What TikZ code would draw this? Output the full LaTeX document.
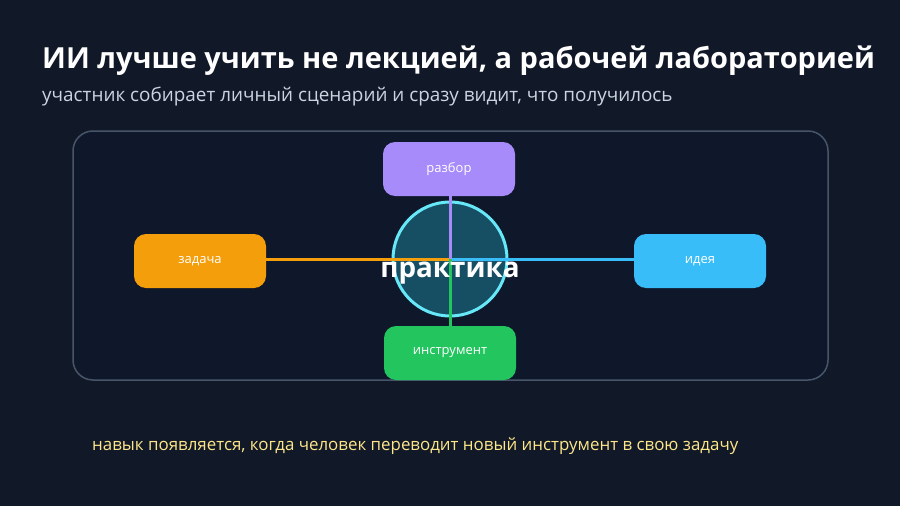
\documentclass[tikz,border=0pt]{standalone}
\usepackage{fontspec}
\setmainfont{Open Sans}
\usetikzlibrary{positioning}
\definecolor{bg}{HTML}{111827}
\definecolor{panelfill}{HTML}{0F172A}
\definecolor{panelline}{HTML}{475569}
\definecolor{subt}{HTML}{CBD5E1}
\definecolor{cpurple}{HTML}{A78BFA}
\definecolor{corange}{HTML}{F59E0B}
\definecolor{cblue}{HTML}{38BDF8}
\definecolor{cgreen}{HTML}{22C55E}
\definecolor{circfill}{HTML}{164E63}
\definecolor{circline}{HTML}{67E8F9}
\definecolor{foot}{HTML}{FDE68A}
\tikzset{
  box/.style={rounded corners=12pt, minimum width=132pt, minimum height=54pt, inner sep=0pt, text=white, font=\fontsize{13}{15}\selectfont},
  link/.style={line width=3pt},
}
\begin{document}
\begin{tikzpicture}[x=1pt,y=-1pt]
\fill[bg] (0,0) rectangle (900,506);
\useasboundingbox (0,0) rectangle (900,506);
\node[anchor=base west, text=white, font=\fontsize{29}{33}\selectfont\bfseries, inner sep=0pt] (title) at (42,68) {ИИ лучше учить не лекцией, а рабочей лабораторией};
\node[anchor=base west, text=subt, font=\fontsize{18.9}{22}\selectfont, inner sep=0pt] (sub) at (42,101) {участник собирает личный сценарий и сразу видит, что получилось};
\draw[panelline, fill=panelfill, line width=1.5pt, rounded corners=20pt] (73,131) rectangle (828,380);
\node[box, fill=cpurple] (razbor) at (449,169) {разбор};
\node[box, fill=corange] (zadacha) at (200,261) {задача};
\node[box, fill=cblue] (ideya) at (700,261) {идея};
\node[box, fill=cgreen] (instr) at (450,353) {инструмент};
\node[circle, draw=circline, fill=circfill, line width=3pt, minimum size=114pt, inner sep=0pt] (prak) at (450,259) {};
\coordinate (c) at (450,259);
\draw[link, corange] (zadacha.east |- c) -- (c);
\draw[link, cblue] (c) -- (ideya.west |- c);
\draw[link, cpurple] (razbor.south -| c) -- (c);
\draw[link, cgreen] (c) -- (instr.north -| c);
\node[text=white, font=\fontsize{27.8}{30}\selectfont\bfseries, inner sep=0pt] (praktext) at (450,273) {практика};
\node[anchor=base west, text=foot, font=\fontsize{16.9}{19}\selectfont, inner sep=0pt] (footer) at (92,450) {навык появляется, когда человек переводит новый инструмент в свою задачу};
\end{tikzpicture}
\end{document}
